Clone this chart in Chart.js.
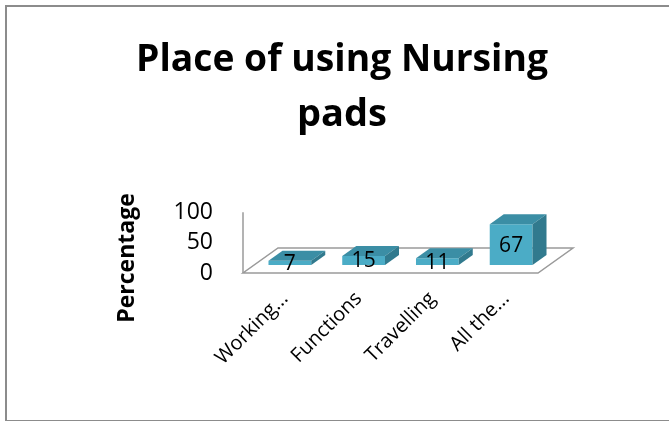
<!DOCTYPE html>
<html>
<head>
<meta charset="utf-8">
<script src="https://cdn.jsdelivr.net/npm/chart.js@4.4.0/dist/chart.umd.min.js"></script>
<style>
  html, body { margin: 0; padding: 0; background: #fff; }
  #wrap { position: relative; width: 669px; height: 421px; overflow: hidden; }
  #frame { position: absolute; left: 5px; top: 5px; width: 700px; height: 413px; border: 2px solid #8c8c8c; border-right: none; }
  canvas { position: absolute; left: 0; top: 0; }
</style>
</head>
<body>
<div id="wrap">
  <div id="frame"></div>
  <canvas id="chart" width="669" height="421"></canvas>
</div>
<script>
var categories = ['Working...', 'Functions', 'Travelling', 'All the...'];
var percentages = [7, 15, 11, 67];
var chartTitle = ['Place of using Nursing', 'pads'];
var yTitle = 'Percentage';

// fake 3d: bar depth and floor depth in px
var barDepth = { dx: 14, dy: 10 };
var floorShift = { dx: -10, dy: 8 };
var floorDepth = { dx: 35, dy: 25 };

var bars3d = {
    id: 'bars3d',
    beforeDatasetsDraw: function (chart) {
        var ctx = chart.ctx, area = chart.chartArea, ys = chart.scales.y;
        var fy = ys.getPixelForValue(0) + floorShift.dy;
        var fx0 = area.left + floorShift.dx, fx1 = area.right + floorShift.dx;
        ctx.save();
        ctx.strokeStyle = '#9a9a9a';
        ctx.lineWidth = 1.5;
        ctx.beginPath();
        ctx.moveTo(fx0, fy);
        ctx.lineTo(fx1, fy);
        ctx.lineTo(fx1 + floorDepth.dx, fy - floorDepth.dy);
        ctx.lineTo(fx0 + floorDepth.dx, fy - floorDepth.dy);
        ctx.closePath();
        ctx.stroke();
        // wall line
        ctx.beginPath();
        ctx.moveTo(fx0, ys.getPixelForValue(ys.max) + floorShift.dy);
        ctx.lineTo(fx0, fy);
        ctx.stroke();
        ctx.restore();
    },
    afterDatasetsDraw: function (chart) {
        var ctx = chart.ctx;
        var meta = chart.getDatasetMeta(0);
        ctx.save();
        meta.data.forEach(function (bar, i) {
            var x0 = bar.x - bar.width / 2, x1 = bar.x + bar.width / 2;
            var top = bar.y, base = bar.base;
            var dx = barDepth.dx, dy = barDepth.dy;
            // top face
            ctx.fillStyle = '#3b8ea5';
            ctx.beginPath();
            ctx.moveTo(x0, top);
            ctx.lineTo(x1, top);
            ctx.lineTo(x1 + dx, top - dy);
            ctx.lineTo(x0 + dx, top - dy);
            ctx.closePath();
            ctx.fill();
            // side face
            ctx.fillStyle = '#317a8e';
            ctx.beginPath();
            ctx.moveTo(x1, top);
            ctx.lineTo(x1, base);
            ctx.lineTo(x1 + dx, base - dy);
            ctx.lineTo(x1 + dx, top - dy);
            ctx.closePath();
            ctx.fill();
            // value label
            ctx.fillStyle = '#000';
            ctx.font = '21px "Open Sans"';
            ctx.textAlign = 'center';
            ctx.textBaseline = 'middle';
            ctx.fillText(String(percentages[i]), bar.x, (top + base) / 2 + 1);
        });
        ctx.restore();
    },
    afterDraw: function (chart) {
        var ctx = chart.ctx;
        ctx.save();
        ctx.translate(127, 258);
        ctx.rotate(-Math.PI / 2);
        ctx.fillStyle = '#000';
        ctx.font = 'bold 23px "Open Sans"';
        ctx.textAlign = 'center';
        ctx.textBaseline = 'middle';
        ctx.fillText(yTitle, 0, 0);
        ctx.restore();
    }
};

var ctx = document.getElementById('chart').getContext('2d');
window.placeChart = new Chart(ctx, {
    type: 'bar',
    data: {
        labels: categories,
        datasets: [{
            label: 'Percentage',
            data: percentages,
            backgroundColor: '#4bacc6',
            borderWidth: 0,
            barPercentage: 0.58,
            categoryPercentage: 1
        }]
    },
    options: {
        responsive: false,
        animation: false,
        layout: {
            padding: { left: 136, right: 121, top: 0, bottom: 0 }
        },
        plugins: {
            legend: { display: false },
            tooltip: { enabled: false },
            title: {
                display: true,
                text: chartTitle,
                color: '#000',
                font: { family: '"Open Sans"', size: 38, weight: 'bold', lineHeight: 1.45 },
                padding: { top: 33, bottom: 61 }
            }
        },
        scales: {
            x: {
                grid: { display: false, drawTicks: false },
                border: { display: false },
                ticks: {
                    autoSkip: false,
                    maxRotation: 45,
                    minRotation: 45,
                    padding: 22,
                    labelOffset: -5,
                    color: '#000',
                    font: { family: '"Open Sans"', size: 20 }
                },
                afterFit: function (scale) { scale.height = 156; }
            },
            y: {
                min: 0,
                max: 100,
                grid: { display: false, drawTicks: false },
                border: { display: false },
                ticks: {
                    autoSkip: false,
                    stepSize: 50,
                    padding: 40,
                    labelOffset: 8,
                    color: '#000',
                    font: { family: '"Open Sans"', size: 23 }
                },
                afterFit: function (scale) { scale.width = 117; }
            }
        }
    },
    plugins: [bars3d]
});
</script>
</body>
</html>
